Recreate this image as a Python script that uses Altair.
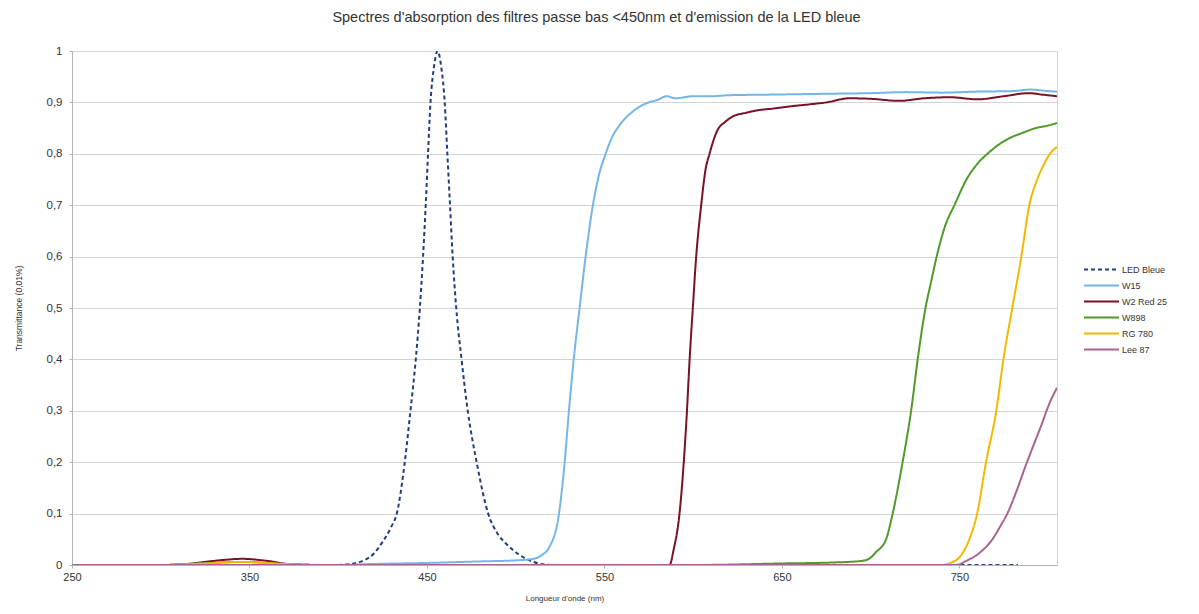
import altair as alt
import pandas as pd

series_names = ["LED Bleue", "W15", "W2 Red 25", "W898", "RG 780", "Lee 87"]
series_colors = ["#1d3f7d", "#74b5ea", "#7b1124", "#4f9a2a", "#f5b800", "#a8638f"]

led_wl = [400, 410, 415, 420, 425, 430, 433, 437.5, 440.7, 443.7, 446, 447.8, 449.3, 450.6, 452, 454, 456,
          458, 460, 461.5, 463, 464.5, 466.5, 469.5, 473, 478, 484.5, 490, 495, 502, 510, 520, 783]
led_val = [0, 0.004, 0.01, 0.022, 0.045, 0.075, 0.1, 0.2, 0.3, 0.4, 0.5, 0.6, 0.7, 0.8, 0.9, 0.97, 1.0,
           0.97, 0.9, 0.8, 0.7, 0.6, 0.5, 0.4, 0.3, 0.2, 0.1, 0.06, 0.04, 0.02, 0.006, 0, 0]

w15_wl = [250, 400, 420, 450, 480, 500, 510, 515, 519, 524.4, 527.6, 530, 532.7, 536, 539.4, 543.5, 547,
          550.7, 554, 558.6, 562, 565.9, 570, 575, 580, 585, 590, 600, 610, 620, 640, 660, 680, 700, 720,
          740, 760, 780, 790, 800, 805]
w15_val = [0, 0, 0.002, 0.004, 0.007, 0.009, 0.012, 0.02, 0.035, 0.1, 0.2, 0.3, 0.4, 0.5, 0.6, 0.7, 0.76,
           0.8, 0.83, 0.856, 0.87, 0.882, 0.892, 0.9, 0.905, 0.912, 0.908, 0.912, 0.912, 0.914, 0.915,
           0.916, 0.917, 0.918, 0.92, 0.919, 0.921, 0.922, 0.925, 0.922, 0.921]

w2_wl = [250, 300, 315, 330, 346, 360, 372, 390, 586.7, 589, 592.3, 594.7, 596.5, 598, 599.8, 601.7, 604.5,
         607, 609.2, 613.7, 618, 622, 630, 637, 645, 654, 665, 675, 688, 700, 716, 730, 745, 760, 775, 789,
         797, 805]
w2_val = [0, 0, 0.002, 0.008, 0.012, 0.008, 0.002, 0, 0, 0.03, 0.1, 0.2, 0.3, 0.4, 0.5, 0.6, 0.7,
          0.77, 0.8, 0.846, 0.862, 0.872, 0.88, 0.885, 0.888, 0.892, 0.896, 0.9, 0.908, 0.907, 0.903,
          0.908, 0.91, 0.906, 0.912, 0.918, 0.915, 0.912]

w898_wl = [250, 300, 320, 346, 370, 390, 600, 650, 680, 695, 699, 703, 708.7, 712.4, 718, 722.8, 726.5,
           730.9, 734, 737.2, 742, 747.2, 754, 760, 765.8, 771, 778, 785, 793, 800, 805]
w898_val = [0, 0, 0.003, 0.006, 0.002, 0, 0, 0.003, 0.005, 0.008, 0.012, 0.025, 0.05, 0.1, 0.2, 0.3, 0.4,
            0.5, 0.55, 0.6, 0.66, 0.7, 0.75, 0.78, 0.8, 0.815, 0.83, 0.84, 0.85, 0.855, 0.86]

rg_wl = [250, 300, 320, 346, 370, 390, 740, 745, 750, 755, 760, 765, 770.8, 774.8, 779.8, 784.9, 789.4,
         793.3, 797, 801, 805]
rg_val = [0, 0, 0.002, 0.006, 0.002, 0, 0, 0.004, 0.015, 0.045, 0.1, 0.2, 0.3, 0.4, 0.5, 0.6, 0.7,
          0.745, 0.775, 0.8, 0.813]

lee_wl = [250, 390, 748, 755, 760, 765, 768.6, 773, 777, 782, 787, 792, 796.5, 800, 805]
lee_val = [0, 0, 0, 0.01, 0.02, 0.035, 0.05, 0.075, 0.1, 0.142, 0.19, 0.235, 0.275, 0.308, 0.345]

x_ticks = [250, 350, 450, 550, 650, 750]
y_ticks = [0, 0.1, 0.2, 0.3, 0.4, 0.5, 0.6, 0.7, 0.8, 0.9, 1]

rows = []
for name, wls, vals in zip(series_names,
                           [led_wl, w15_wl, w2_wl, w898_wl, rg_wl, lee_wl],
                           [led_val, w15_val, w2_val, w898_val, rg_val, lee_val]):
    for i, (w, v) in enumerate(zip(wls, vals)):
        rows.append({"wl": w, "value": v, "series": name, "order": i})
df = pd.DataFrame(rows)

FONT = "Liberation Sans"

chart = alt.Chart(df).mark_line(strokeWidth=2, interpolate="monotone", clip=True).encode(
    x=alt.X("wl:Q", scale=alt.Scale(domain=[250, 805], nice=False, zero=False),
            axis=alt.Axis(values=x_ticks, format="d", grid=False, title="Longueur d'onde (nm)",
                          tickSize=3, labelPadding=3, labelFontSize=11, labelFlush=False,
                          titleFontSize=8,
                          titleFontWeight="normal", titleY=33, titleBaseline="middle",
                          domainColor="#b3b3b3", tickColor="#b3b3b3", labelColor="#333333",
                          titleColor="#333333")),
    y=alt.Y("value:Q", scale=alt.Scale(domain=[0, 1], nice=False),
            axis=alt.Axis(values=y_ticks,
                          labelExpr="replace(format(datum.value, '~g'), '.', ',')",
                          title="Transmittance (0,01%)", grid=True, gridColor="#d4d4d4",
                          tickSize=3, labelPadding=7, labelFontSize=11.5, titleFontSize=8.5,
                          titleFontWeight="normal", titleX=-54, titleY=257, titleAngle=270,
                          titleAlign="center", titleBaseline="middle",
                          domainColor="#b3b3b3", tickColor="#b3b3b3", labelColor="#333333",
                          titleColor="#333333")),
    color=alt.Color("series:N", scale=alt.Scale(domain=series_names, range=series_colors),
                    legend=alt.Legend(title=None, orient="none", legendX=1011, legendY=212,
                                      symbolType="stroke", symbolSize=1225, symbolStrokeWidth=2,
                                      labelFontSize=9, rowPadding=3, clipHeight=13, labelOffset=2,
                                      labelColor="#333333")),
    strokeDash=alt.StrokeDash("series:N",
                              scale=alt.Scale(domain=series_names,
                                              range=[[4, 3], [1, 0], [1, 0], [1, 0], [1, 0], [1, 0]]),
                              legend=None),
    order="order:Q",
    detail="series:N",
).properties(
    width=985, height=514,
    title=alt.TitleParams("Spectres d'absorption des filtres passe bas <450nm et d'emission de la LED bleue",
                          anchor="middle", frame="group", dx=32, offset=20, fontSize=14.5,
                          fontWeight="normal", color="#333333"),
    padding={"left": 64, "top": 43, "right": 134, "bottom": 41},
    autosize=alt.AutoSizeParams(type="none"),
).configure(font=FONT).configure_view(stroke="#d4d4d4")

chart.save("out.html", embed_options={"renderer": "svg", "actions": False})
